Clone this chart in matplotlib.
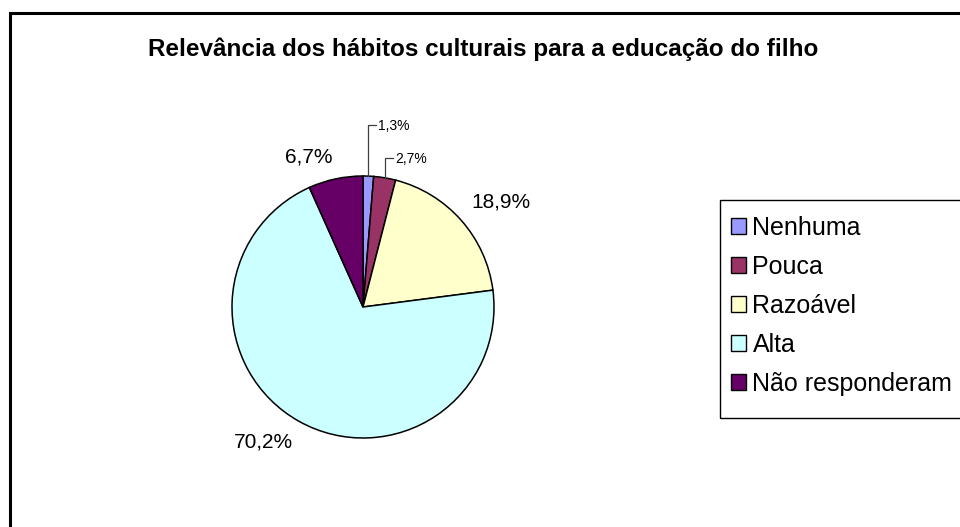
import numpy as np
import matplotlib
matplotlib.use("Agg")
import matplotlib.pyplot as plt
from matplotlib.patches import Rectangle

plt.rcParams['font.family'] = ['Liberation Sans', 'DejaVu Sans']

# data
categories = ["Nenhuma", "Pouca", "Razoável", "Alta", "Não responderam"]
values = [1.3, 2.7, 18.9, 70.2, 6.7]
value_labels = ["1,3%", "2,7%", "18,9%", "70,2%", "6,7%"]
colors = ["#9999FF", "#993366", "#FFFFCC", "#CCFFFF", "#660066"]
title = "Relevância dos hábitos culturais para a educação do filho"

W, H = 960, 527
fig = plt.figure(figsize=(W / 100, H / 100), dpi=100)
ax = fig.add_axes([0, 0, 1, 1])

# pie in pixel coordinates (y up)
cx, cy, R = 363, H - 307, 131
wedges, _ = ax.pie(values, colors=colors, startangle=90, counterclock=False,
                   center=(cx, cy), radius=R,
                   wedgeprops=dict(edgecolor="black", linewidth=1.1))
ax.set_xlim(0, W)
ax.set_ylim(0, H)
ax.set_aspect("equal")
ax.axis("off")

# labels, excel style
total = sum(values)
start = 90.0
leader_up = {0: 0.39, 1: 0.14}   # small slices get a hooked leader line
for i, (v, lab) in enumerate(zip(values, value_labels)):
    span = v / total * 360
    mid = np.deg2rad(start - span / 2)
    start -= span
    c, s = np.cos(mid), np.sin(mid)
    if i in leader_up:
        ex, ey = cx + R * c, cy + R * s
        top = cy + R + leader_up[i] * R
        ax.plot([ex, ex, ex + 8], [ey, top, top], color="#404040", lw=0.9)
        ax.text(ex + 10, top - 1, lab, fontsize=10, ha="left", va="center")
    else:
        ax.text(cx + 1.1 * R * c, cy + 1.1 * R * s, lab, fontsize=15,
                ha="left" if c > 0 else "right",
                va="bottom" if s > 0 else "top")

fig.text(483 / W, 1 - 49 / H, title, ha="center", va="center",
         fontsize=17.5, fontweight="bold")

# legend entries (frame drawn separately, it runs off the right edge)
leg = fig.legend(wedges, categories, loc="upper left",
                 bbox_to_anchor=(720 / W, 1 - 205 / H), fontsize=18,
                 frameon=False, borderaxespad=0, borderpad=0.45,
                 handlelength=0.6, handleheight=0.6, handletextpad=0.25,
                 labelspacing=0.6)
for h in leg.legend_handles:
    h.set_edgecolor("black")
    h.set_linewidth(1.0)
fig.patches.append(Rectangle((720 / W, 1 - 418 / H), 0.5, 218 / H,
                             transform=fig.transFigure, fill=False,
                             edgecolor="black", linewidth=1.0))

# outer chart border, clipped on right and bottom
fig.patches.append(Rectangle((10 / W, -0.1), 1.2, 1 - 13 / H + 0.1,
                             transform=fig.transFigure, fill=False,
                             edgecolor="black", linewidth=2.2))

fig.savefig("out.png", dpi=100)
